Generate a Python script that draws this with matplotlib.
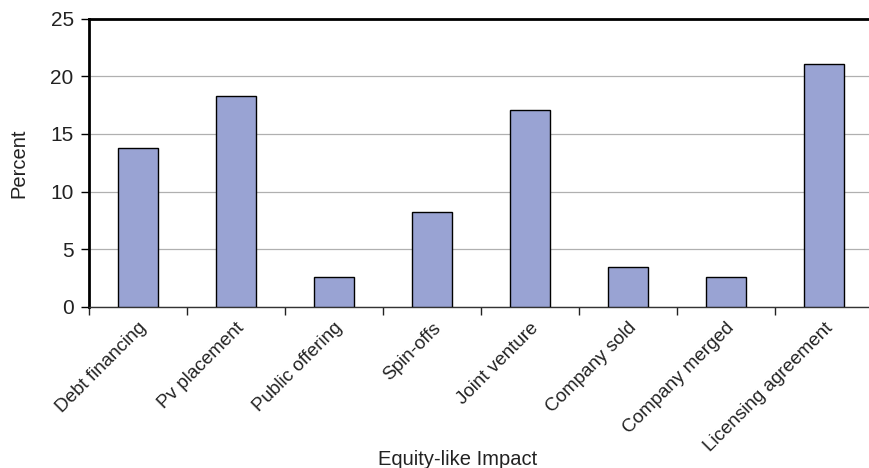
import matplotlib
matplotlib.use("Agg")
import matplotlib.pyplot as plt
import numpy as np

categories = ["Debt financing", "Pv placement", "Public offering", "Spin-offs",
              "Joint venture", "Company sold", "Company merged", "Licensing agreement"]
values = [13.8, 18.3, 2.6, 8.2, 17.1, 3.5, 2.6, 21.1]
yticks = [0, 5, 10, 15, 20, 25]

plt.rcParams['font.family'] = ['Liberation Sans', 'DejaVu Sans']

fig = plt.figure(figsize=(8.69, 4.68), dpi=100)
ax = fig.add_axes([89/869, 1-307/468, 784/869, (307-18.5)/468])

x = np.arange(len(categories))
ax.bar(x, values, width=0.41, color='#99A3D3', edgecolor='black', linewidth=1.0, zorder=3)

ax.set_xlim(-0.5, len(categories) - 0.5)
ax.set_ylim(0, 25)
ax.set_yticks(yticks)
ax.set_yticklabels([str(t) for t in yticks], fontsize=15, color='#222222')
ax.yaxis.grid(True, color='#b0b0b0', linewidth=0.9, zorder=0)

ax.set_xticks(x)
ax.set_xticklabels(categories, rotation=45, ha='right', va='top', rotation_mode='anchor',
                   fontsize=13.6, color='#222222')
ax.tick_params(axis='x', which='major', length=0, pad=9)
ax.set_xticks(np.arange(len(categories) + 1) - 0.5, minor=True)
ax.tick_params(axis='x', which='minor', length=6, width=1.0, color='#222222', direction='out')
ax.tick_params(axis='y', length=6, width=1.0, direction='out', pad=5)

for s in ['top', 'left']:
    ax.spines[s].set_linewidth(2.0)
    ax.spines[s].set_color('black')
ax.spines['bottom'].set_linewidth(1.0)
ax.spines['bottom'].set_color('#333333')
ax.spines['right'].set_visible(False)

ax.set_ylabel("Percent", fontsize=14.5, labelpad=16, color='#222222')
ax.set_xlabel("Equity-like Impact", fontsize=14.5, color='#222222')
ax.xaxis.set_label_coords((458 - 89) / 784, -(450 - 307) / 288.5)

fig.savefig("out.png", dpi=100)
